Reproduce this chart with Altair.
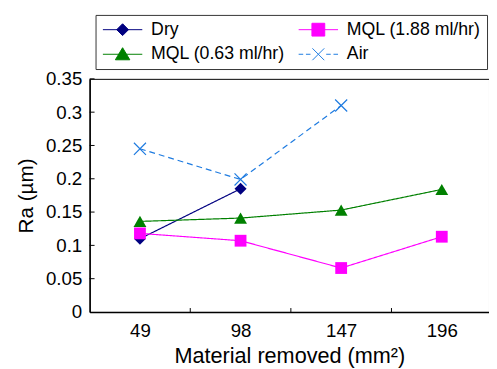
import altair as alt
import pandas as pd

# ---- data ----
categories = [49, 98, 147, 196]
series_names = ["Dry", "MQL (1.88 ml/hr)", "MQL (0.63 ml/hr)", "Air"]
dry = [0.110, 0.185, None, None]
mql_188 = [0.118, 0.107, 0.066, 0.113]
mql_063 = [0.136, 0.141, 0.153, 0.184]
air = [0.245, 0.199, 0.310, None]
y_ticks = [0, 0.05, 0.1, 0.15, 0.2, 0.25, 0.3, 0.35]

colors = ["#000080", "#FF00FF", "#008000", "#1E7BE0"]
dashes = [[1, 0], [1, 0], [1, 0], [6, 4]]
marker_shapes = ["diamond", "square", "triangle-up", "M-1,-1L1,1M-1,1L1,-1"]
marker_sizes = [150, 144, 170, 150]
# legend glyphs (line + marker), in units of 7 px
legend_paths = [
    "M-2.86,0H2.86M-0.86,0L0,-0.86L0.86,0L0,0.86Z",
    "M-2.86,0H2.86M-0.93,-0.93H0.93V0.93H-0.93Z",
    "M-2.86,0H2.86M0,-0.95L1.05,0.8H-1.05Z",
    "M-2.86,0H-2.2M-1.8,0H-1.14M1.14,0H1.8M2.2,0H2.86"
    "M-0.86,-0.86L0.86,0.86M-0.86,0.86L0.86,-0.86",
]

rows = []
for name, vals in zip(series_names, [dry, mql_188, mql_063, air]):
    for c, v in zip(categories, vals):
        if v is not None:
            rows.append({"x": c, "y": v, "series": name})
df = pd.DataFrame(rows)

boundaries = [(a + b) / 2 for a, b in zip(categories, categories[1:])]
xtick_df = pd.DataFrame({"x": boundaries})
ytick_df = pd.DataFrame({"y": y_ticks[1:]})

FONT = "Liberation Sans"

x_enc = alt.X(
    "x:Q",
    scale=alt.Scale(domain=[24.5, 219], nice=False, zero=False),
    axis=alt.Axis(values=categories, title="Material removed (mm²)", ticks=False,
                  grid=False, labelPadding=10, titlePadding=5, titleFontSize=22),
)
y_enc = alt.Y(
    "y:Q",
    scale=alt.Scale(domain=[0, 0.35], nice=False, zero=False),
    axis=alt.Axis(values=y_ticks, format="~g", title="Ra (µm)", ticks=False,
                  grid=False, labelPadding=8, titlePadding=9),
)

series_layers = []
for name, col, dash, shp, sz in zip(series_names, colors, dashes, marker_shapes, marker_sizes):
    is_x = shp.startswith("M")
    base = alt.Chart(df).transform_filter(alt.datum.series == name)
    series_layers.append(
        base.mark_line(color=col, strokeWidth=1.2, strokeDash=dash).encode(x=x_enc, y=y_enc)
    )
    series_layers.append(
        base.mark_point(
            shape=shp, size=sz, filled=not is_x, color=col, opacity=1,
            strokeWidth=1.2 if is_x else 0.5,
        ).encode(x=x_enc, y=y_enc)
    )


def make_legend():
    return alt.Legend(
        title=None, orient="none", legendX=6, legendY=-65, columns=2,
        direction="horizontal",
        strokeColor="#333333", fillColor="white", padding=6,
        symbolSize=196, symbolStrokeWidth=1, symbolOffset=12.5, symbolOpacity=1,
        labelFont=FONT, labelFontSize=18, labelColor="black", labelOffset=20,
        labelLimit=300, columnPadding=11, rowPadding=7,
    )


legend_layer = alt.Chart(df).mark_point(filled=True, opacity=0).encode(
    x=x_enc, y=y_enc,
    shape=alt.Shape("series:N", scale=alt.Scale(domain=series_names, range=legend_paths),
                    legend=make_legend()),
    fill=alt.Fill("series:N", scale=alt.Scale(domain=series_names, range=colors),
                  legend=make_legend()),
    stroke=alt.Stroke("series:N", scale=alt.Scale(domain=series_names, range=colors),
                      legend=make_legend()),
)

xticks = alt.Chart(xtick_df).mark_rule(color="black", strokeWidth=1).encode(
    x=x_enc, y=alt.value(237), y2=alt.value(233))
yticks = alt.Chart(ytick_df).mark_rule(color="black", strokeWidth=1).encode(
    y=y_enc, x=alt.value(0), x2=alt.value(5))

chart = alt.layer(*series_layers, legend_layer, xticks, yticks).properties(
    width=406, height=237,
    padding={"left": 83, "top": 69, "right": 0, "bottom": 60},
    autosize=alt.AutoSizeParams(type="none"),
).configure_view(stroke="black", strokeWidth=1).configure_axis(
    labelFont=FONT, titleFont=FONT, labelFontSize=19, titleFontSize=21,
    labelColor="black", titleColor="black", titleFontWeight="normal",
    domainColor="black", domainWidth=1.5,
)

chart.save("out.html", embed_options={"renderer": "svg", "actions": False})
